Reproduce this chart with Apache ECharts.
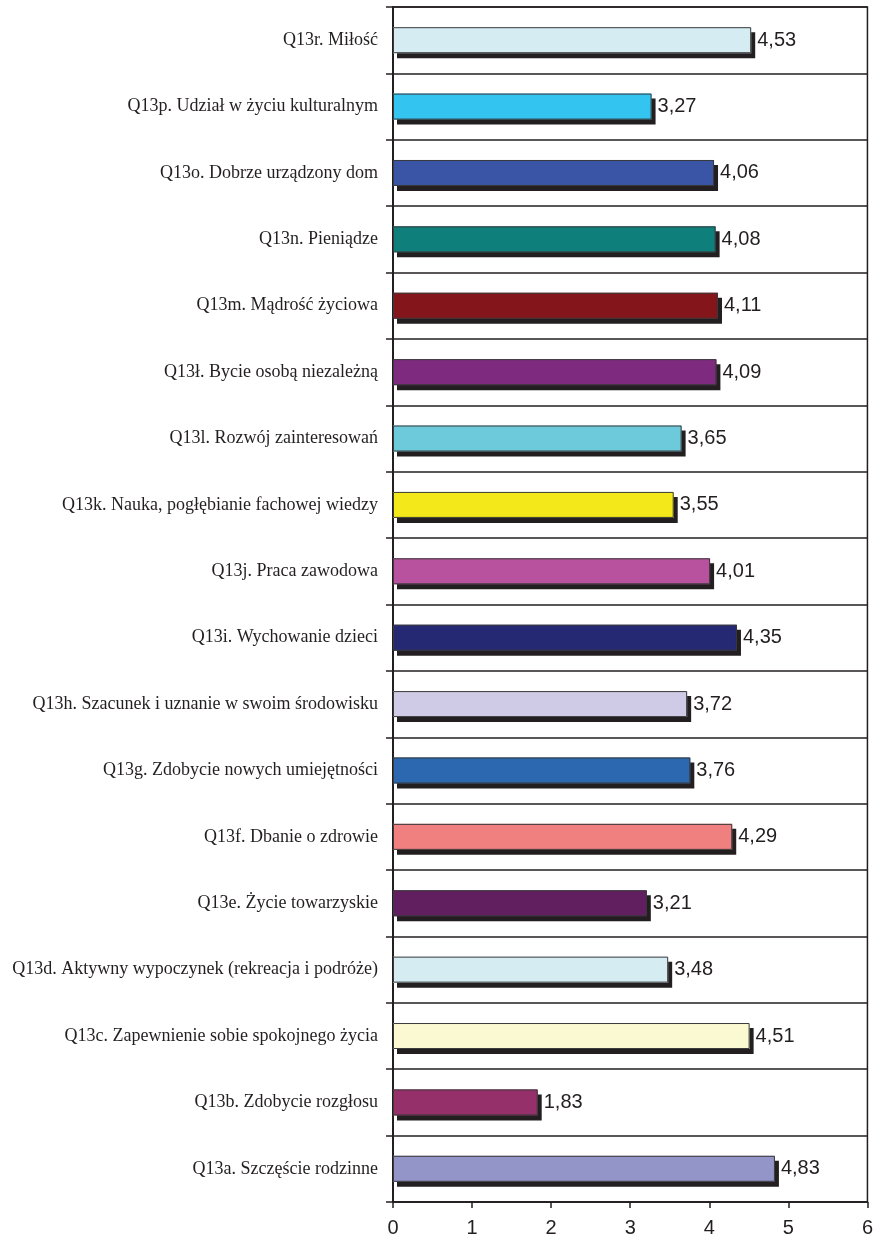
<!DOCTYPE html>
<html><head><meta charset="utf-8">
<script src="https://cdn.jsdelivr.net/npm/echarts@6/dist/echarts.min.js"></script>
<style>html,body{margin:0;padding:0;background:#fff}#c{width:876px;height:1241px}</style>
</head><body><div id="c"></div>
<script>
const categories = [
  "Q13a. Szczęście rodzinne",
  "Q13b. Zdobycie rozgłosu",
  "Q13c. Zapewnienie sobie spokojnego życia",
  "Q13d. Aktywny wypoczynek (rekreacja i podróże)",
  "Q13e. Życie towarzyskie",
  "Q13f. Dbanie o zdrowie",
  "Q13g. Zdobycie nowych umiejętności",
  "Q13h. Szacunek i uznanie w swoim środowisku",
  "Q13i. Wychowanie dzieci",
  "Q13j. Praca zawodowa",
  "Q13k. Nauka, pogłębianie fachowej wiedzy",
  "Q13l. Rozwój zainteresowań",
  "Q13ł. Bycie osobą niezależną",
  "Q13m. Mądrość życiowa",
  "Q13n. Pieniądze",
  "Q13o. Dobrze urządzony dom",
  "Q13p. Udział w życiu kulturalnym",
  "Q13r. Miłość"
];
const values = [4.83, 1.83, 4.51, 3.48, 3.21, 4.29, 3.76, 3.72, 4.35, 4.01, 3.55, 3.65, 4.09, 4.11, 4.08, 4.06, 3.27, 4.53];
const barColors = ["#9394c7","#96306a","#fbf9d2","#d4ecf2","#611f5f","#f07f80","#2b68b0","#cfcbe6","#252873","#b8529f","#f2e81a","#6ccadb","#7e2a7f","#84161b","#0e7f7b","#3a55a5","#33c4f0","#d4ecf2"];
const xTicks = [0, 1, 2, 3, 4, 5, 6];

const chart = echarts.init(document.getElementById('c'), null, {renderer: 'canvas'});
chart.setOption({
  animation: false,
  backgroundColor: '#fff',
  grid: {left: 393, right: 6, top: 7, bottom: 39, show: true, borderColor: '#231f20', borderWidth: 1.5, backgroundColor: 'transparent'},
  xAxis: {
    type: 'value', min: xTicks[0], max: xTicks[xTicks.length - 1], interval: 1,
    axisLine: {show: true, lineStyle: {color: '#231f20', width: 1.5}},
    axisTick: {show: true, length: 6, lineStyle: {color: '#231f20', width: 1.5}},
    axisLabel: {color: '#231f20', fontFamily: 'Liberation Sans, Arial', fontSize: 20, margin: 16},
    splitLine: {show: false}
  },
  yAxis: {
    type: 'category', data: categories,
    axisLine: {show: true, lineStyle: {color: '#231f20', width: 2}},
    axisTick: {show: true, length: 7, lineStyle: {color: '#231f20', width: 1.5}},
    axisLabel: {color: '#231f20', fontFamily: 'Liberation Serif, Times New Roman', fontSize: 18, margin: 15},
    splitLine: {show: true, lineStyle: {color: '#231f20', width: 1.5}}
  },
  series: [{
    type: 'bar',
    barWidth: 26,
    barGap: '-100%',
    data: values.map((v, i) => ({value: v, itemStyle: {color: barColors[i]}})),
    itemStyle: {borderWidth: 0, shadowColor: '#231f20', shadowBlur: 0, shadowOffsetX: 4, shadowOffsetY: 5},
    label: {
      show: true, position: 'right', distance: 6,
      color: '#231f20', fontFamily: 'Liberation Sans, Arial', fontSize: 20,
      formatter: p => p.value.toFixed(2).replace('.', ',')
    }
  }, {
    type: 'bar',
    barWidth: 26,
    barGap: '-100%',
    data: values,
    silent: true,
    itemStyle: {color: 'transparent', borderColor: '#3a3a3a', borderWidth: 1}
  }]
});
</script></body></html>
